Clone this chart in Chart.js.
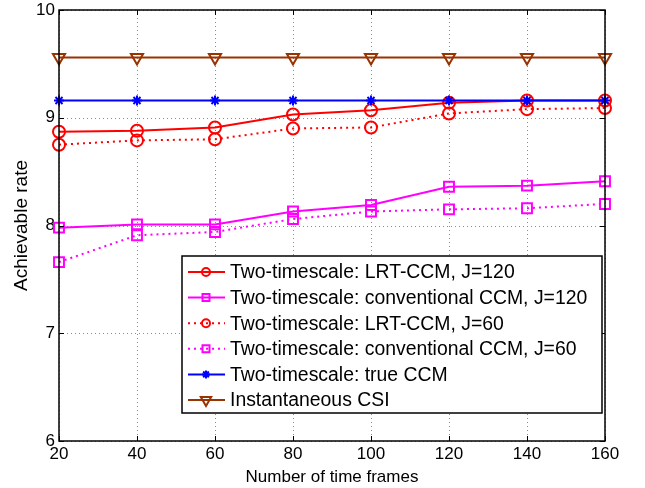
<!DOCTYPE html>
<html>
<head>
<meta charset="utf-8">
<script src="https://cdn.jsdelivr.net/npm/chart.js@4.4.0/dist/chart.umd.min.js"></script>
<style>
  html, body { margin: 0; padding: 0; background: #fff; }
  #wrap { width: 645px; height: 488px; }
</style>
</head>
<body>
<div id="wrap"><canvas id="myChart" width="645" height="488"></canvas></div>
<script>
// data
const frames = [20, 40, 60, 80, 100, 120, 140, 160];
const yTicks = [6, 7, 8, 9, 10];

const lrt_120  = [8.87, 8.88, 8.91, 9.03, 9.07, 9.14, 9.16, 9.16];
const conv_120 = [7.98, 8.01, 8.01, 8.13, 8.19, 8.36, 8.37, 8.41];
const lrt_60   = [8.75, 8.79, 8.80, 8.90, 8.91, 9.04, 9.08, 9.09];
const conv_60  = [7.66, 7.91, 7.94, 8.06, 8.13, 8.15, 8.16, 8.20];
const true_ccm = [9.16, 9.16, 9.16, 9.16, 9.16, 9.16, 9.16, 9.16];
const inst_csi = [9.56, 9.56, 9.56, 9.56, 9.56, 9.56, 9.56, 9.56];

const FONT = '"Liberation Sans", Arial, Helvetica, sans-serif';
const BROWN = 'rgb(153, 51, 0)';

function makeSet(label, data, color, style, radius, dash, rot) {
    return {
        label: label,
        data: data,
        borderColor: color,
        backgroundColor: 'rgba(0,0,0,0)',
        borderWidth: 2,
        borderDash: dash,
        pointStyle: style,
        pointRadius: radius,
        pointRotation: rot || 0,
        pointBorderColor: color,
        pointBackgroundColor: 'rgba(0,0,0,0)',
        pointBorderWidth: 2,
        tension: 0
    };
}

const datasets = [
    makeSet('Two-timescale: LRT-CCM, J=120', lrt_120, 'rgb(255,0,0)', 'circle', 6, []),
    makeSet('Two-timescale: conventional CCM, J=120', conv_120, 'rgb(255,0,255)', 'rect', 7, []),
    makeSet('Two-timescale: LRT-CCM, J=60', lrt_60, 'rgb(255,0,0)', 'circle', 6, [2, 4]),
    makeSet('Two-timescale: conventional CCM, J=60', conv_60, 'rgb(255,0,255)', 'rect', 7, [2, 4]),
    makeSet('Two-timescale: true CCM', true_ccm, 'rgb(0,0,255)', 'star', 5, []),
    makeSet('Instantaneous CSI', inst_csi, BROWN, 'triangle', 7, [], 180)
];
// later series drawn on top, like matlab
datasets.forEach(function (d, i) { d.order = datasets.length - i; });

// small marker for the legend
function drawMarker(ctx, style, x, y, r, rot) {
    ctx.beginPath();
    if (style === 'circle') {
        ctx.arc(x, y, r, 0, Math.PI * 2);
    } else if (style === 'rect') {
        ctx.rect(x - r, y - r, 2 * r, 2 * r);
    } else if (style === 'star') {
        for (let k = 0; k < 4; k++) {
            const a = k * Math.PI / 4;
            ctx.moveTo(x - Math.cos(a) * r, y - Math.sin(a) * r);
            ctx.lineTo(x + Math.cos(a) * r, y + Math.sin(a) * r);
        }
    } else if (style === 'triangle') {
        const a0 = (rot || 0) * Math.PI / 180;
        for (let k = 0; k < 3; k++) {
            const a = a0 + k * 2 * Math.PI / 3;
            const px = x + Math.sin(a) * r, py = y - Math.cos(a) * r;
            if (k === 0) ctx.moveTo(px, py); else ctx.lineTo(px, py);
        }
        ctx.closePath();
    }
    ctx.stroke();
}

// dotted matlab grid, under the lines
const gridPlugin = {
    id: 'gridPlugin',
    beforeDatasetsDraw(chart) {
        const ctx = chart.ctx;
        const a = chart.chartArea;
        const xs = chart.scales.x, ys = chart.scales.y;
        ctx.save();
        ctx.strokeStyle = '#8c8c8c';
        ctx.lineWidth = 1;
        ctx.setLineDash([1, 3]);
        ctx.beginPath();
        frames.forEach(function (f, i) {
            const px = Math.round(xs.getPixelForValue(i)) + 0.5;
            ctx.moveTo(px, a.top); ctx.lineTo(px, a.bottom);
        });
        yTicks.forEach(function (v) {
            const py = Math.round(ys.getPixelForValue(v)) + 0.5;
            ctx.moveTo(a.left, py); ctx.lineTo(a.right, py);
        });
        ctx.stroke();
        ctx.restore();
    }
};

const framePlugin = {
    id: 'framePlugin',
    afterDraw(chart) {
        const ctx = chart.ctx;
        const a = chart.chartArea;
        const xs = chart.scales.x, ys = chart.scales.y;
        ctx.save();
        ctx.strokeStyle = '#000';
        ctx.lineWidth = 1.5;
        ctx.setLineDash([]);
        ctx.strokeRect(a.left, a.top, a.right - a.left, a.bottom - a.top);
        // inward tick marks on all sides
        ctx.lineWidth = 1;
        const tl = 5;
        ctx.beginPath();
        frames.forEach(function (f, i) {
            const px = Math.round(xs.getPixelForValue(i)) + 0.5;
            ctx.moveTo(px, a.bottom); ctx.lineTo(px, a.bottom - tl);
            ctx.moveTo(px, a.top); ctx.lineTo(px, a.top + tl);
        });
        yTicks.forEach(function (v) {
            const py = Math.round(ys.getPixelForValue(v)) + 0.5;
            ctx.moveTo(a.left, py); ctx.lineTo(a.left + tl, py);
            ctx.moveTo(a.right, py); ctx.lineTo(a.right - tl, py);
        });
        ctx.stroke();

        // legend box inside the plot, bottom right
        const bx = 182, by = 256, bw = 420, bh = 157;
        ctx.fillStyle = '#fff';
        ctx.fillRect(bx, by, bw, bh);
        ctx.strokeStyle = '#000';
        ctx.lineWidth = 1.5;
        ctx.strokeRect(bx, by, bw, bh);
        ctx.font = '19.4px ' + FONT;
        ctx.textBaseline = 'middle';
        chart.data.datasets.forEach(function (d, i) {
            const y = by + 16 + i * 25.6;
            ctx.strokeStyle = d.borderColor;
            ctx.lineWidth = 2;
            ctx.setLineDash(d.borderDash);
            ctx.beginPath();
            ctx.moveTo(bx + 6, y);
            ctx.lineTo(bx + 43, y);
            ctx.stroke();
            ctx.setLineDash([]);
            const r = d.pointStyle === 'rect' ? 3.5 : (d.pointStyle === 'triangle' ? 6 : 4);
            drawMarker(ctx, d.pointStyle, bx + 24, y, r, d.pointRotation);
            ctx.fillStyle = '#000';
            ctx.fillText(d.label, bx + 48, y + 1);
        });
        ctx.restore();
    }
};

const ctx = document.getElementById('myChart').getContext('2d');
const myChart = new Chart(ctx, {
    type: 'line',
    data: {
        labels: frames,
        datasets: datasets
    },
    options: {
        responsive: false,
        animation: false,
        devicePixelRatio: 1,
        layout: { padding: { top: 0, right: 40, left: 0, bottom: 0 } },
        plugins: {
            legend: { display: false },
            tooltip: { enabled: false }
        },
        scales: {
            x: {
                type: 'category',
                offset: false,
                grid: { display: false, drawTicks: false },
                border: { display: false },
                ticks: {
                    color: '#000',
                    font: { family: FONT, size: 17 },
                    padding: 3,
                    maxRotation: 0,
                    autoSkip: false
                },
                title: {
                    display: true,
                    text: 'Number of time frames',
                    color: '#000',
                    font: { family: FONT, size: 17 },
                    padding: { top: 0, bottom: 0 }
                },
                afterFit: function (scale) { scale.height = 47; }
            },
            y: {
                min: 6,
                max: 10,
                grid: { display: false, drawTicks: false },
                border: { display: false },
                ticks: {
                    stepSize: 1,
                    color: '#000',
                    font: { family: FONT, size: 17 },
                    padding: 4
                },
                title: {
                    display: true,
                    text: 'Achievable rate',
                    color: '#000',
                    font: { family: FONT, size: 19 },
                    padding: { top: 10, bottom: 0 }
                },
                afterFit: function (scale) {
                    scale.width = 59;
                    scale.paddingTop = 10;
                }
            }
        }
    },
    plugins: [gridPlugin, framePlugin]
});
</script>
</body>
</html>
